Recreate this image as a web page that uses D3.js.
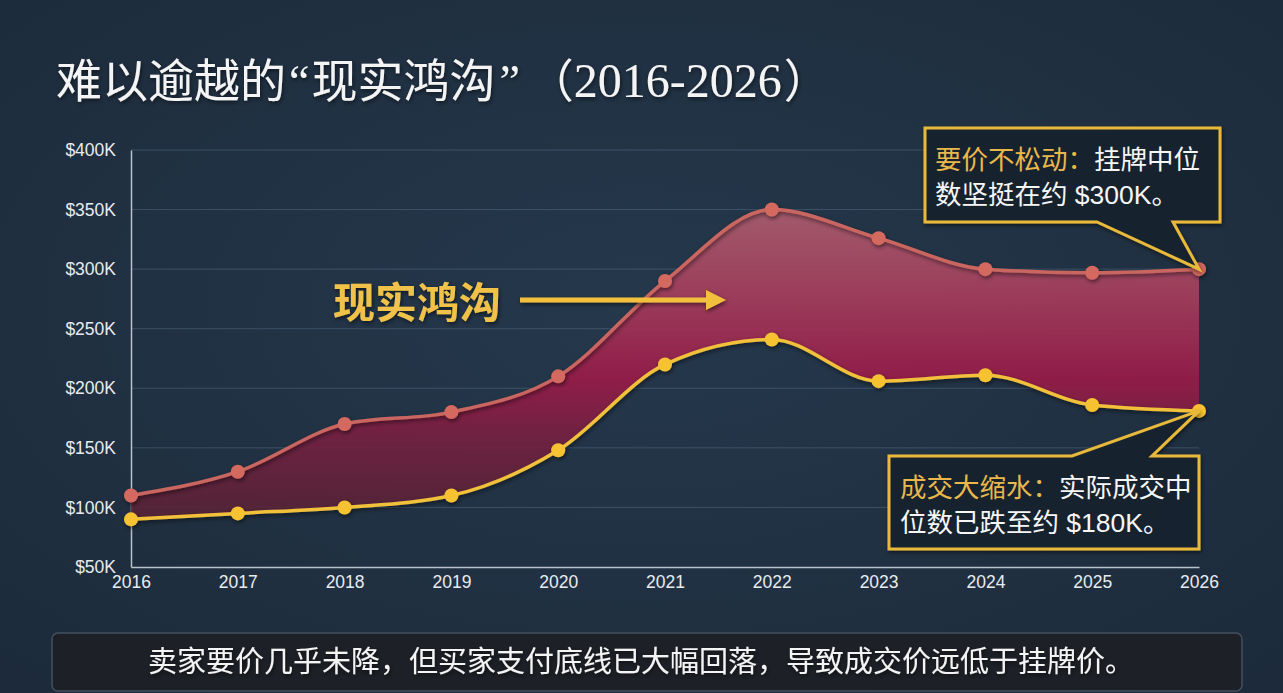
<!DOCTYPE html>
<html>
<head>
<meta charset="utf-8">
<script src="https://cdn.jsdelivr.net/npm/d3@7"></script>
<style>
  body { margin: 0; background: #1f3042; }
  svg { display: block; }
</style>
</head>
<body>
<svg id="chart" width="1283" height="693"></svg>
<script>
// data
var years = [2016, 2017, 2018, 2019, 2020, 2021, 2022, 2023, 2024, 2025, 2026];
var listingPrice = [110000, 130000, 170000, 180000, 210000, 290000, 350000, 326000, 300000, 297000, 300000];
var salePrice = [90000, 95000, 100000, 110000, 148000, 220000, 241000, 206000, 211000, 186000, 181000];
var yTicks = [50000, 100000, 150000, 200000, 250000, 300000, 350000, 400000];

var titleParts = ["难以逾越的", "“", "现实鸿沟", "”", "（", "2016-2026", "）"];
var gapLabel = "现实鸿沟";
var noteTop = ["要价不松动：", "挂牌中位", "数坚挺在约 $300K。"];
var noteBottom = ["成交大缩水：", "实际成交中", "位数已跌至约 $180K。"];
var footer = "卖家要价几乎未降，但买家支付底线已大幅回落，导致成交价远低于挂牌价。";

var svg = d3.select("#chart");
var cnFont = "'Liberation Sans', 'Noto Sans CJK SC', sans-serif";
var serif = "'Liberation Serif', serif";

var defs = svg.append("defs");

var bg = defs.append("radialGradient").attr("id", "bg")
	.attr("cx", "50%").attr("cy", "45%").attr("r", "75%");
bg.append("stop").attr("offset", "0%").attr("stop-color", "#25384c");
bg.append("stop").attr("offset", "100%").attr("stop-color", "#1c2a3a");

var gap = defs.append("linearGradient").attr("id", "gapFill")
	.attr("gradientUnits", "userSpaceOnUse")
	.attr("x1", 0).attr("x2", 0).attr("y1", 205).attr("y2", 520);
gap.append("stop").attr("offset", "0%").attr("stop-color", "#b06070").attr("stop-opacity", 0.9);
gap.append("stop").attr("offset", "30%").attr("stop-color", "#a83c5c").attr("stop-opacity", 0.9);
gap.append("stop").attr("offset", "55%").attr("stop-color", "#9c1a48").attr("stop-opacity", 0.9);
gap.append("stop").attr("offset", "75%").attr("stop-color", "#742040").attr("stop-opacity", 0.9);
gap.append("stop").attr("offset", "100%").attr("stop-color", "#552335").attr("stop-opacity", 0.9);

var shadow = defs.append("filter").attr("id", "shadow")
	.attr("x", "-20%").attr("y", "-20%").attr("width", "140%").attr("height", "140%");
shadow.append("feDropShadow").attr("dx", 1).attr("dy", 2).attr("stdDeviation", 2)
	.attr("flood-color", "#000").attr("flood-opacity", 0.55);

svg.append("rect").attr("width", 1283).attr("height", 693).attr("fill", "url(#bg)");

// title
var title = svg.append("text")
	.attr("x", 56).attr("y", 97)
	.attr("font-family", "'Noto Sans CJK SC', sans-serif")
	.attr("font-size", 46)
	.attr("fill", "#f4f4f4")
	.attr("filter", "url(#shadow)");
title.append("tspan").text(titleParts[0]);
title.append("tspan").attr("font-family", serif).attr("dx", 3).text(titleParts[1]);
title.append("tspan").attr("dx", 2).text(titleParts[2]);
title.append("tspan").attr("font-family", serif).attr("dx", 4).text(titleParts[3]);
title.append("tspan").attr("dx", 31).text(titleParts[4]);
title.append("tspan").attr("font-family", serif).attr("font-size", 48).attr("dx", 0).text(titleParts[5]);
title.append("tspan").attr("dx", 2).text(titleParts[6]);

// scales
var x = d3.scaleLinear().domain([2016, 2026]).range([131, 1199]);
var y = d3.scaleLinear().domain([50000, 400000]).range([567, 150]);

// grid
svg.append("g")
	.selectAll("line")
	.data(yTicks.slice(1))
	.enter()
	.append("line")
	.attr("x1", x(2016)).attr("x2", x(2026))
	.attr("y1", function (d) { return y(d); })
	.attr("y2", function (d) { return y(d); })
	.attr("stroke", "#5d7590").attr("stroke-opacity", 0.45).attr("stroke-width", 1);

// axes
var yAxis = svg.append("g")
	.attr("transform", "translate(" + x(2016) + ",0)")
	.call(d3.axisLeft(y).tickValues(yTicks).tickSize(0).tickPadding(15)
		.tickFormat(function (d) { return "$" + d / 1000 + "K"; }));
var xAxis = svg.append("g")
	.attr("transform", "translate(0," + y(50000) + ")")
	.call(d3.axisBottom(x).tickValues(years).tickSize(0).tickPadding(9)
		.tickFormat(d3.format("d")));
[yAxis, xAxis].forEach(function (g) {
	g.attr("font-size", 18);
	g.select(".domain").attr("stroke", "#b8c2cc").attr("stroke-width", 1.5);
	g.selectAll("text")
		.attr("font-family", "'Liberation Sans', Arial, sans-serif")
		.attr("font-size", 17.5)
		.attr("fill", "#e8ecef");
});

// gap area
var rows = years.map(function (yr, i) { return { year: yr, list: listingPrice[i], sale: salePrice[i] }; });
var curve = d3.curveMonotoneX;

svg.append("path")
	.datum(rows)
	.attr("d", d3.area().curve(curve)
		.x(function (d) { return x(d.year); })
		.y0(function (d) { return y(d.sale); })
		.y1(function (d) { return y(d.list); }))
	.attr("fill", "url(#gapFill)");

function drawSeries(key, color, dot) {
	var g = svg.append("g").attr("filter", "url(#shadow)");
	g.append("path")
		.datum(rows)
		.attr("d", d3.line().curve(curve)
			.x(function (d) { return x(d.year); })
			.y(function (d) { return y(d[key]); }))
		.attr("fill", "none")
		.attr("stroke", color)
		.attr("stroke-width", 3.5);
	g.selectAll("circle")
		.data(rows)
		.enter()
		.append("circle")
		.attr("cx", function (d) { return x(d.year); })
		.attr("cy", function (d) { return y(d[key]); })
		.attr("r", 7)
		.attr("fill", dot);
}
drawSeries("list", "#c9665f", "#d4695f");
drawSeries("sale", "#f2c13a", "#f6c232");

// gap label + arrow
svg.append("text")
	.attr("x", 333).attr("y", 318)
	.attr("font-family", "'Noto Sans CJK SC', sans-serif")
	.attr("font-weight", "bold")
	.attr("font-size", 42)
	.attr("fill", "#f0c248")
	.attr("filter", "url(#shadow)")
	.text(gapLabel);
var arrow = svg.append("g").attr("filter", "url(#shadow)");
arrow.append("line")
	.attr("x1", 520).attr("x2", 708).attr("y1", 300).attr("y2", 300)
	.attr("stroke", "#f2c03c").attr("stroke-width", 5);
arrow.append("path")
	.attr("d", "M706,290 L726,300 L706,310 Z")
	.attr("fill", "#f2c03c");

// callouts
function callout(path, lines, x0, base1, base2) {
	var g = svg.append("g");
	g.append("path")
		.attr("d", path)
		.attr("fill", "#1a2430").attr("fill-opacity", 0.94)
		.attr("stroke", "#e8b93a").attr("stroke-width", 3)
		.attr("stroke-linejoin", "miter")
		.attr("filter", "url(#shadow)");
	var t1 = g.append("text").attr("x", x0).attr("y", base1)
		.attr("font-family", cnFont).attr("font-size", 26.5);
	t1.append("tspan").attr("fill", "#eab84a").text(lines[0]);
	t1.append("tspan").attr("fill", "#f6f6f6").text(lines[1]);
	g.append("text").attr("x", x0).attr("y", base2)
		.attr("font-family", cnFont).attr("font-size", 26.5)
		.attr("fill", "#f6f6f6").text(lines[2]);
}
var tipTopX = x(2026), tipTopY = y(listingPrice[10]);
var tipBotX = x(2026), tipBotY = y(salePrice[10]);
callout("M925,128 H1220 V222 H1173 L" + tipTopX + "," + tipTopY + " L1097,222 H925 Z",
	noteTop, 935, 169, 204);
callout("M889,456 H1072 L" + tipBotX + "," + tipBotY + " L1152,456 H1199 V549 H889 Z",
	noteBottom, 900, 497, 532);

// footer banner
svg.append("rect")
	.attr("x", 52).attr("y", 633).attr("width", 1190).attr("height", 58).attr("rx", 6)
	.attr("fill", "#1d2026").attr("stroke", "#41505e").attr("stroke-width", 1.5);
svg.append("text")
	.attr("x", 641).attr("y", 672)
	.attr("text-anchor", "middle")
	.attr("font-family", "'Noto Sans CJK SC', sans-serif")
	.attr("font-size", 29)
	.attr("fill", "#f4f4f4")
	.attr("filter", "url(#shadow)")
	.text(footer);
</script>
</body>
</html>
